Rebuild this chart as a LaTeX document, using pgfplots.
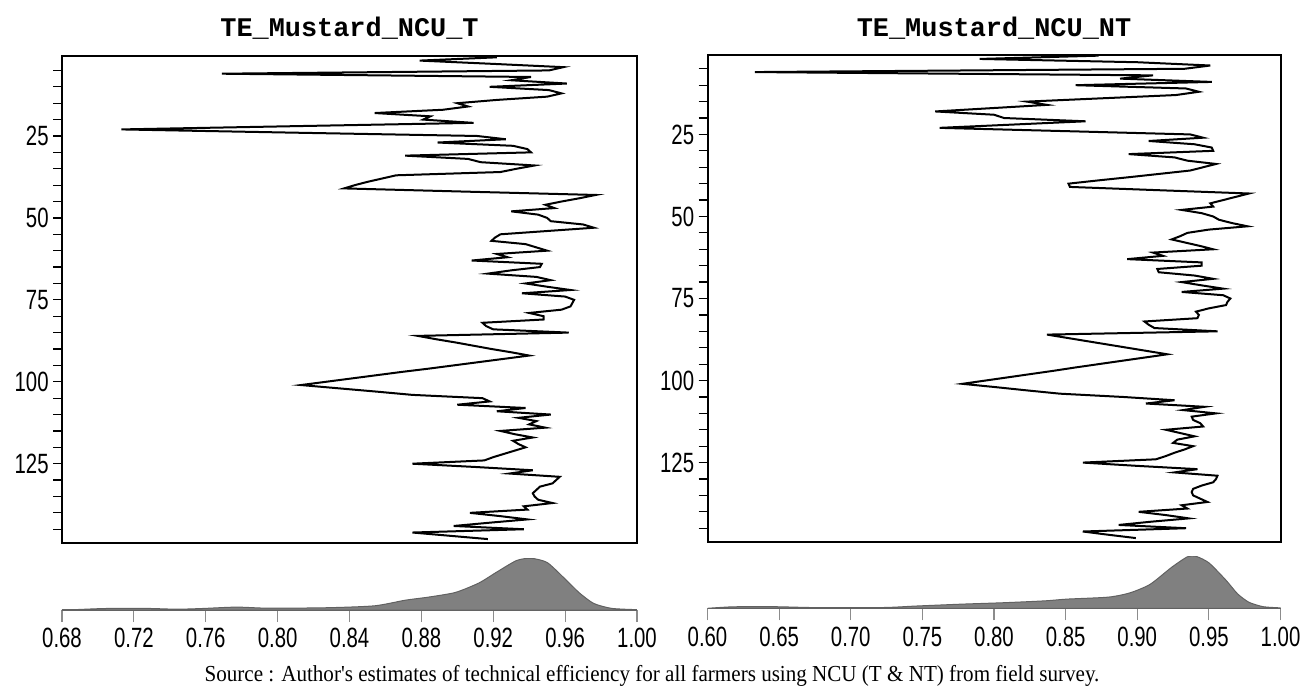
\documentclass[border=0pt]{standalone}
\usepackage{fontspec}
\setmainfont{Liberation Serif}
\newfontfamily\tickfont[FakeStretch=0.73]{Liberation Sans}
\newfontfamily\titlefont{Liberation Mono}
\newfontfamily\srcfont[FakeStretch=0.92]{Liberation Serif}
\usepackage{pgfplots}
\usepackage{pgfplotstable}
\pgfplotsset{compat=1.18}

% TE by observation (T model)
\pgfplotstableread{
obs te
1 0.922
2 0.879
3 0.920
4 0.959
5 0.951
6 0.769
7 0.941
8 0.930
9 0.961
10 0.918
11 0.951
12 0.958
13 0.950
14 0.922
15 0.900
16 0.906
17 0.892
18 0.854
19 0.885
20 0.881
21 0.909
22 0.810
23 0.713
24 0.810
25 0.911
26 0.927
27 0.889
28 0.931
29 0.939
30 0.941
31 0.871
32 0.906
33 0.913
34 0.943
35 0.933
36 0.924
37 0.866
38 0.858
39 0.850
40 0.843
41 0.837
42 0.906
43 0.977
44 0.968
45 0.958
46 0.949
47 0.954
48 0.930
49 0.945
50 0.950
51 0.952
52 0.970
53 0.976
54 0.950
55 0.924
56 0.921
57 0.919
58 0.938
59 0.944
60 0.950
61 0.922
62 0.928
63 0.908
64 0.947
65 0.946
66 0.930
67 0.917
68 0.944
69 0.952
70 0.938
71 0.950
72 0.963
73 0.936
74 0.960
75 0.965
76 0.964
77 0.963
78 0.958
79 0.940
80 0.948
81 0.948
82 0.914
83 0.916
84 0.920
85 0.962
86 0.878
87 0.888
88 0.899
89 0.909
90 0.919
91 0.930
92 0.940
93 0.926
94 0.912
95 0.898
96 0.884
97 0.869
98 0.855
99 0.841
100 0.827
101 0.813
102 0.834
103 0.855
104 0.875
105 0.914
106 0.918
107 0.900
108 0.938
109 0.922
110 0.952
111 0.934
112 0.944
113 0.940
114 0.949
115 0.924
116 0.932
117 0.942
118 0.931
119 0.934
120 0.938
121 0.932
122 0.926
123 0.920
124 0.915
125 0.875
126 0.910
127 0.942
128 0.929
129 0.957
130 0.955
131 0.953
132 0.946
133 0.944
134 0.942
135 0.943
136 0.945
137 0.953
138 0.937
139 0.939
140 0.907
141 0.924
142 0.939
143 0.918
144 0.898
145 0.937
146 0.875
147 0.896
148 0.917
}\tetab

% TE by observation (NT model)
\pgfplotstableread{
obs te
1 0.873
2 0.790
3 0.900
4 0.951
5 0.933
6 0.633
7 0.911
8 0.888
9 0.952
10 0.857
11 0.934
12 0.943
13 0.927
14 0.875
15 0.823
16 0.837
17 0.798
18 0.759
19 0.800
20 0.807
21 0.864
22 0.813
23 0.762
24 0.850
25 0.937
26 0.946
27 0.908
28 0.940
29 0.952
30 0.953
31 0.894
32 0.926
33 0.935
34 0.955
35 0.946
36 0.937
37 0.916
38 0.895
39 0.873
40 0.852
41 0.853
42 0.915
43 0.978
44 0.969
45 0.960
46 0.951
47 0.953
48 0.931
49 0.945
50 0.953
51 0.957
52 0.966
53 0.977
54 0.950
55 0.935
56 0.930
57 0.924
58 0.934
59 0.944
60 0.953
61 0.911
62 0.918
63 0.893
64 0.945
65 0.945
66 0.914
67 0.915
68 0.940
69 0.953
70 0.931
71 0.945
72 0.960
73 0.931
74 0.960
75 0.965
76 0.963
77 0.962
78 0.950
79 0.941
80 0.943
81 0.942
82 0.905
83 0.908
84 0.912
85 0.956
86 0.837
87 0.851
88 0.865
89 0.879
90 0.893
91 0.907
92 0.921
93 0.905
94 0.889
95 0.873
96 0.857
97 0.842
98 0.826
99 0.810
100 0.794
101 0.778
102 0.801
103 0.823
104 0.846
105 0.890
106 0.926
107 0.906
108 0.947
109 0.932
110 0.955
111 0.938
112 0.939
113 0.944
114 0.946
115 0.920
116 0.930
117 0.940
118 0.928
119 0.925
120 0.939
121 0.933
122 0.926
123 0.920
124 0.913
125 0.862
126 0.900
127 0.942
128 0.926
129 0.956
130 0.955
131 0.953
132 0.945
133 0.939
134 0.938
135 0.939
136 0.944
137 0.949
138 0.931
139 0.935
140 0.901
141 0.920
142 0.936
143 0.910
144 0.887
145 0.934
146 0.862
147 0.880
148 0.899
}\ntab

\pgfplotsset{
  mainax/.style={
    scale only axis, y dir=reverse, ymax=149.2,
    xtick=\empty, ytick={25,50,75,100,125}, minor ytick={5,10,...,145},
    ytick pos=left, tick align=outside,
    major tick length=4.5bp, minor tick length=4.5bp,
    axis line style={line width=1bp},
    every tick/.style={black, line width=0.6bp},
    yticklabel style={font=\tickfont\fontsize{14}{14}\selectfont, inner sep=2bp},
    /pgf/number format/assume math mode=true,
  },
  densax/.style={
    scale only axis, axis x line*=bottom, axis y line=none,
    ymin=0, ymax=52, height=26bp, enlargelimits=false,
    tick align=outside, major tick length=6bp, xtick pos=bottom,
    x axis line style={black!60, line width=0.8bp},
    every tick/.style={black!45, line width=0.6bp},
    xticklabel style={font=\tickfont\fontsize{14}{14}\selectfont, inner sep=3bp,
      /pgf/number format/.cd, fixed, fixed zerofill, precision=2},
    /pgf/number format/assume math mode=true,
  },
}

\begin{document}
\begin{tikzpicture}
\useasboundingbox (0,0) rectangle (652bp,-346bp);

% left: TE_Mustard_NCU_T
\begin{axis}[mainax, at={(31bp,-28bp)}, anchor=north west,
  width=287.5bp, height=243.5bp, xmin=0.68, xmax=1.00, ymin=0.6]
  \addplot[black, line width=1bp, mark=none] table[x=te, y=obs] {\tetab};
\end{axis}
\begin{axis}[densax, at={(31bp,-305bp)}, anchor=south west,
  width=287.5bp, xmin=0.68, xmax=1.00,
  xtick={0.68,0.72,0.76,0.80,0.84,0.88,0.92,0.96,1.00}]
  \addplot[fill=black!50, draw=black!62, line width=0.5bp, smooth, tension=0.4] coordinates {
    (0.680,0) (0.689,0.5) (0.704,1.5) (0.727,1.6) (0.744,0.8) (0.758,1.5)
    (0.777,2.9) (0.795,1.8) (0.828,2.3) (0.854,4.2) (0.871,9.8) (0.884,12.9)
    (0.899,17.6) (0.912,27.0) (0.922,38.0) (0.933,49.5) (0.941,51.7) (0.950,47.5)
    (0.960,31.0) (0.968,17.0) (0.976,6.5) (0.986,1.6) (1.000,0.3) (1.000,0)
  } \closedcycle;
\end{axis}

% right: TE_Mustard_NCU_NT
\begin{axis}[mainax, at={(353.75bp,-27.5bp)}, anchor=north west,
  width=286.5bp, height=243.5bp, xmin=0.60, xmax=1.00, ymin=0.8]
  \addplot[black, line width=1bp, mark=none] table[x=te, y=obs] {\ntab};
\end{axis}
\begin{axis}[densax, at={(353.75bp,-304.15bp)}, anchor=south west,
  width=286.5bp, xmin=0.60, xmax=1.00,
  xtick={0.60,0.65,0.70,0.75,0.80,0.85,0.90,0.95,1.00}]
  \addplot[fill=black!50, draw=black!62, line width=0.5bp, smooth, tension=0.4] coordinates {
    (0.600,0) (0.618,1.5) (0.647,1.6) (0.676,0.7) (0.723,0.8) (0.746,2.3)
    (0.778,4.2) (0.807,5.6) (0.836,7.5) (0.851,9.2) (0.880,11.2) (0.895,15.5)
    (0.909,24.0) (0.924,41.0) (0.935,51.5) (0.941,52.0) (0.950,45.5)
    (0.962,28.0) (0.970,14.5) (0.978,6.0) (0.988,1.6) (1.000,0.4) (1.000,0)
  } \closedcycle;
\end{axis}

\node[font=\titlefont\bfseries\fontsize{13.5}{13.5}\selectfont] at (174.75bp,-14bp) {TE\_Mustard\_NCU\_T};
\node[font=\titlefont\bfseries\fontsize{13.5}{13.5}\selectfont] at (497bp,-14bp) {TE\_Mustard\_NCU\_NT};
\node[font=\srcfont\fontsize{11.5}{11.5}\selectfont] at (326bp,-338bp)
  {Source : Author's estimates of technical efficiency for all farmers using NCU (T \& NT) from field survey.};
\end{tikzpicture}
\end{document}
